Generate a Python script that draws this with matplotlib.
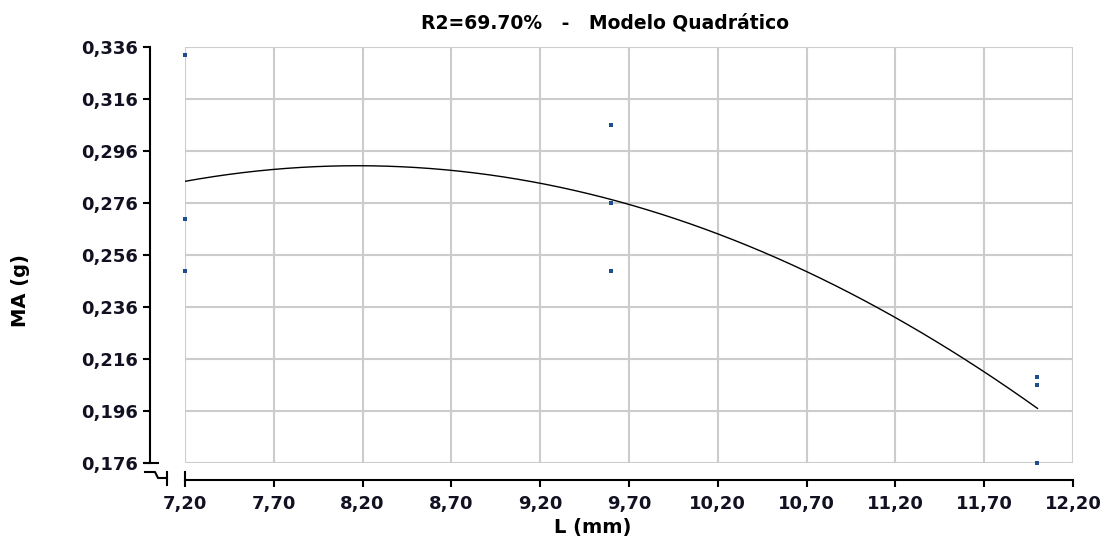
import numpy as np
import matplotlib.pyplot as plt
from matplotlib.lines import Line2D

# Data: L (mm) and MA (g)
L = [7.2, 7.2, 7.2, 9.6, 9.6, 9.6, 12.0, 12.0, 12.0]
MA = [0.333, 0.270, 0.250, 0.306, 0.276, 0.250, 0.209, 0.206, 0.176]

xticks = [7.2, 7.7, 8.2, 8.7, 9.2, 9.7, 10.2, 10.7, 11.2, 11.7, 12.2]
yticks = [0.176, 0.196, 0.216, 0.236, 0.256, 0.276, 0.296, 0.316, 0.336]

# quadratic model fitted on the points
coef = np.polyfit(L, MA, 2)
xfit = np.linspace(min(L), max(L), 60)
yfit = np.polyval(coef, xfit)

plt.rcParams['font.family'] = ['DejaVu Sans']
fig = plt.figure(figsize=(11.09, 5.39), dpi=100)
ax = fig.add_axes([185 / 1109, 1 - 463 / 539, (1073 - 185) / 1109, (463 - 47) / 539])

ax.plot(xfit, yfit, color='black', lw=1)
ax.plot(L, MA, 's', color='#1f4e8c', ms=3.2, mew=0, clip_on=False)

ax.set_xlim(7.2, 12.2)
ax.set_ylim(0.176, 0.336)
ax.set_xticks(xticks)
ax.set_yticks(yticks)
ax.set_xticklabels([f'{v:.2f}'.replace('.', ',') for v in xticks])
ax.set_yticklabels([f'{v:.3f}'.replace('.', ',') for v in yticks])
ax.grid(True, color='#cccccc', lw=1.5)
ax.set_axisbelow(True)

for s in ['top', 'right']:
    ax.spines[s].set_visible(False)
ax.spines['left'].set_position(('outward', 25.2))
ax.spines['bottom'].set_position(('outward', 12.2))
ax.spines['left'].set_linewidth(1.5)
ax.spines['bottom'].set_linewidth(1.5)
ax.tick_params(axis='both', length=5, width=1.5, labelsize=13, colors='black')
ax.tick_params(axis='y', pad=4)
ax.tick_params(axis='x', pad=6)
for lab in ax.get_xticklabels() + ax.get_yticklabels():
    lab.set_fontweight('bold')
    lab.set_color('#111122')

# axis break marks at the lower left
W, H = 1109, 539
def fline(xs, ys):
    fig.add_artist(Line2D([x / W for x in xs], [1 - y / H for y in ys],
                          color='black', lw=1.5))
fline([145, 158], [463, 463])
fline([145, 155, 158, 167], [472, 472, 478, 478])
fline([167, 167], [472, 485])
fline([185, 185], [472, 480])

fig.text(605 / W, 1 - 23 / H, 'R2=69.70%   -   Modelo Quadrático', ha='center',
         va='center', fontsize=13.5, fontweight='bold')
fig.text(593 / W, 1 - 528 / H, 'L (mm)', ha='center', va='center',
         fontsize=14, fontweight='bold')
fig.text(20 / W, 1 - 291 / H, 'MA (g)', ha='center', va='center',
         rotation=90, fontsize=14, fontweight='bold')

fig.savefig('out.png', dpi=100)
